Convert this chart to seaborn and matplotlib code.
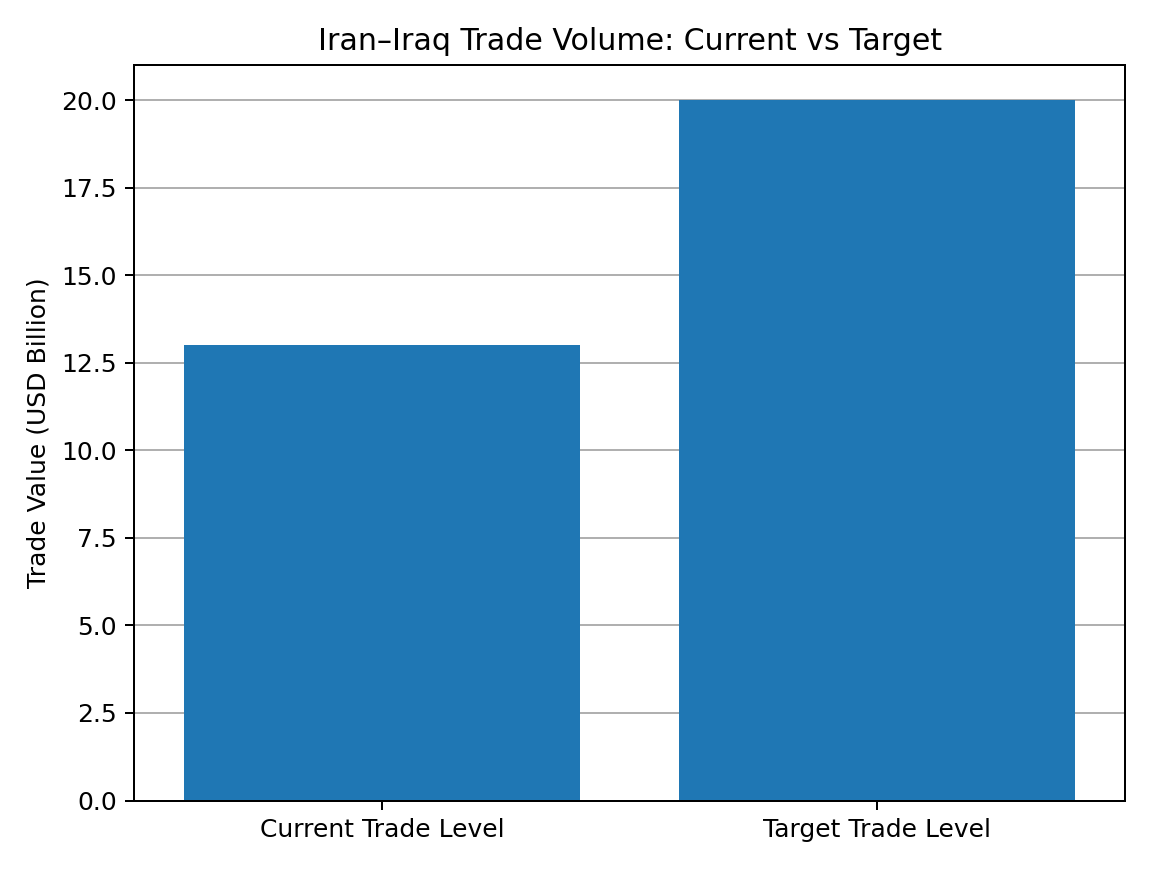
import matplotlib
matplotlib.use("Agg")
import matplotlib.pyplot as plt
import seaborn as sns

categories = ["Current Trade Level", "Target Trade Level"]
values = [13, 20]

fig, ax = plt.subplots(figsize=(6.4, 4.828), dpi=180)
sns.barplot(x=categories, y=values, color="#1f77b4", saturation=1, width=0.8, ax=ax)
ax.set_axisbelow(True)
ax.grid(axis="y")
ax.set_title("Iran\u2013Iraq Trade Volume: Current vs Target")
ax.set_ylabel("Trade Value (USD Billion)")
ax.set_ylim(0, 21)
fig.tight_layout()
fig.savefig("out.png", dpi=180)
